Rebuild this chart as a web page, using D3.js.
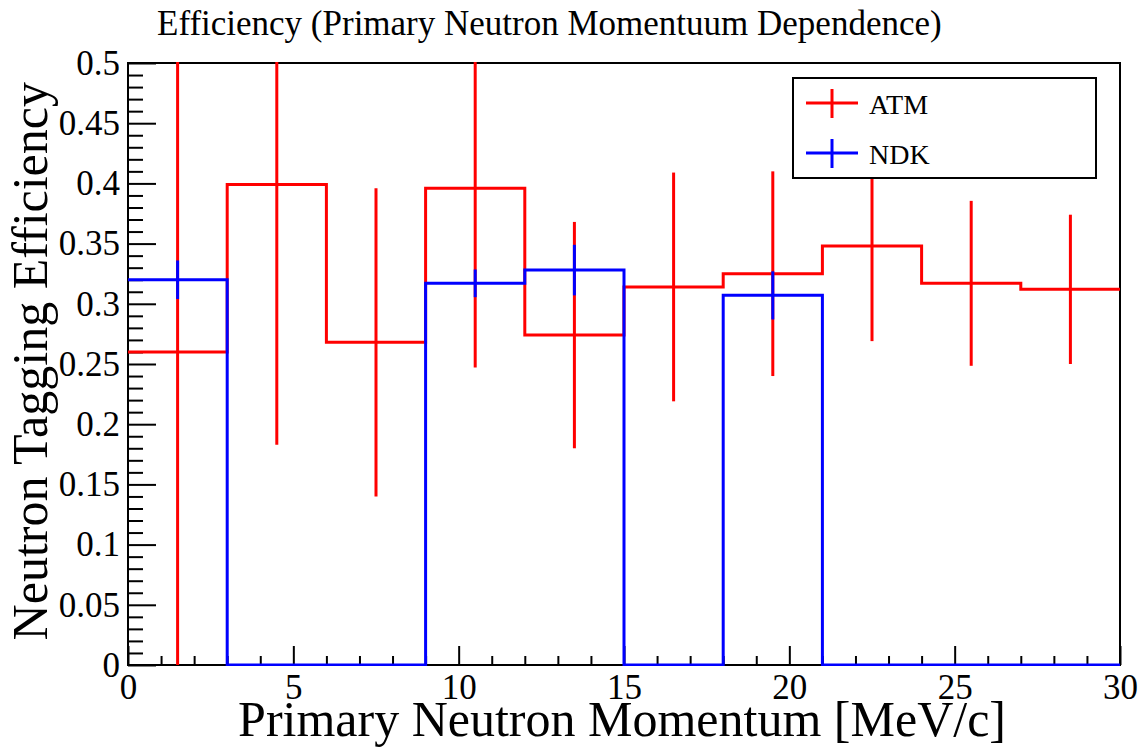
<!DOCTYPE html>
<html>
<head>
<meta charset="utf-8">
<script src="https://cdn.jsdelivr.net/npm/d3@7"></script>
<style>
  html, body { margin: 0; padding: 0; background: #fff; }
</style>
</head>
<body>
<svg id="chart" width="1146" height="747"></svg>
<script>
// Momentum bins [MeV/c]
const binLow  = [0, 3, 6, 9, 12, 15, 18, 21, 24, 27];
const binHigh = [3, 6, 9, 12, 15, 18, 21, 24, 27, 30];

// Tagging efficiency and its uncertainty per bin
const atmEff = [0.260, 0.399, 0.268, 0.396, 0.274, 0.314, 0.325, 0.348, 0.317, 0.312];
const atmErr = [0.260, 0.216, 0.128, 0.149, 0.094, 0.095, 0.085, 0.079, 0.0685, 0.062];
const ndkEff = [0.320, 0, 0, 0.317, 0.328, 0, 0.307, 0, 0, 0];
const ndkErr = [0.016, 0, 0, 0.0115, 0.021, 0, 0.020, 0, 0, 0];

// Axis ticks
const xMajorTicks = [0, 5, 10, 15, 20, 25, 30];
const xMinorTicks = [1, 2, 3, 4, 6, 7, 8, 9, 11, 12, 13, 14, 16, 17, 18, 19, 21, 22, 23, 24, 26, 27, 28, 29];
const yMajorTicks = [0, 0.05, 0.1, 0.15, 0.2, 0.25, 0.3, 0.35, 0.4, 0.45, 0.5];
const yTickLabels = ["0", "0.05", "0.1", "0.15", "0.2", "0.25", "0.3", "0.35", "0.4", "0.45", "0.5"];
const yMinorTicks = [0.01, 0.02, 0.03, 0.04, 0.06, 0.07, 0.08, 0.09, 0.11, 0.12, 0.13, 0.14,
  0.16, 0.17, 0.18, 0.19, 0.21, 0.22, 0.23, 0.24, 0.26, 0.27, 0.28, 0.29, 0.31, 0.32, 0.33, 0.34,
  0.36, 0.37, 0.38, 0.39, 0.41, 0.42, 0.43, 0.44, 0.46, 0.47, 0.48, 0.49];

const seriesNames = ["ATM", "NDK"];
const seriesColors = ["#ff0000", "#0000ff"];

const FONT = '"Liberation Serif"';

const svg = d3.select("#chart");
const frame = { left: 128, right: 1120, top: 63, bottom: 665 };

const x = d3.scaleLinear().domain([0, 30]).range([frame.left, frame.right]);
const y = d3.scaleLinear().domain([0, 0.5]).range([frame.bottom, frame.top]);

// Title
svg.append("text")
  .attr("x", 157).attr("y", 35)
  .attr("font-size", 35)
  .style("font-family", FONT)
  .text("Efficiency (Primary Neutron Momentuum Dependence)");

// Axes: ticks point inward
const xMajor = d3.axisBottom(x).tickValues(xMajorTicks).tickSize(-19).tickPadding(9)
  .tickFormat(d3.format("d"));
const xMinor = d3.axisBottom(x).tickValues(xMinorTicks).tickSize(-9).tickFormat("");
const yMajor = d3.axisLeft(y).tickValues(yMajorTicks).tickSize(-28).tickPadding(8)
  .tickFormat((d, i) => yTickLabels[i]);
const yMinor = d3.axisLeft(y).tickValues(yMinorTicks).tickSize(-15).tickFormat("");

function styleAxis(g) {
  g.attr("font-family", null).attr("font-size", null);
  g.select(".domain").remove();
  g.selectAll(".tick line").attr("stroke", "#000").attr("stroke-width", 2);
  g.selectAll(".tick text").attr("fill", "#000")
    .attr("font-size", 35)
    .style("font-family", FONT);
}

svg.append("g").attr("transform", `translate(0,${frame.bottom})`).call(xMinor).call(styleAxis);
svg.append("g").attr("transform", `translate(0,${frame.bottom})`).call(xMajor).call(styleAxis);
svg.append("g").attr("transform", `translate(${frame.left},0)`).call(yMinor).call(styleAxis);
svg.append("g").attr("transform", `translate(${frame.left},0)`).call(yMajor).call(styleAxis);

// Frame
svg.append("rect")
  .attr("x", frame.left).attr("y", frame.top)
  .attr("width", frame.right - frame.left).attr("height", frame.bottom - frame.top)
  .attr("fill", "none").attr("stroke", "#000").attr("stroke-width", 2);

// Clip region for the data
svg.append("defs").append("clipPath").attr("id", "plotClip")
  .append("rect").attr("x", frame.left).attr("y", frame.top - 1)
  .attr("width", frame.right - frame.left).attr("height", frame.bottom - frame.top + 2);

const plot = svg.append("g").attr("clip-path", "url(#plotClip)");

function drawSeries(eff, err, color) {
  const g = plot.append("g");
  // Step histogram outline
  const pts = [];
  eff.forEach((v, i) => {
    pts.push([x(binLow[i]), y(v)]);
    pts.push([x(binHigh[i]), y(v)]);
  });
  g.append("path")
    .attr("d", d3.line()(pts))
    .attr("fill", "none")
    .attr("stroke", color)
    .attr("stroke-width", 3)
    .attr("stroke-linejoin", "miter");
  // Vertical error bars for non-empty bins
  eff.forEach((v, i) => {
    if (v === 0) return;
    const xc = x((binLow[i] + binHigh[i]) / 2);
    g.append("line")
      .attr("x1", xc).attr("x2", xc)
      .attr("y1", y(v - err[i])).attr("y2", y(v + err[i]))
      .attr("stroke", color).attr("stroke-width", 3);
  });
}

drawSeries(atmEff, atmErr, seriesColors[0]);
drawSeries(ndkEff, ndkErr, seriesColors[1]);

// Axis titles
svg.append("text")
  .attr("x", 1006).attr("y", 736)
  .attr("text-anchor", "end")
  .attr("font-size", 50)
  .style("font-family", FONT)
  .text("Primary Neutron Momentum [MeV/c]");

svg.append("text")
  .attr("transform", "translate(47,82) rotate(-90)")
  .attr("text-anchor", "end")
  .attr("font-size", 50)
  .style("font-family", FONT)
  .text("Neutron Tagging Efficiency");

// Legend
const lg = svg.append("g");
lg.append("rect")
  .attr("x", 793).attr("y", 78).attr("width", 303).attr("height", 100)
  .attr("fill", "#fff").attr("stroke", "#000").attr("stroke-width", 2);
const legendY = [103, 153];
seriesNames.forEach((name, i) => {
  const cy = legendY[i];
  lg.append("line").attr("x1", 806).attr("x2", 858).attr("y1", cy).attr("y2", cy)
    .attr("stroke", seriesColors[i]).attr("stroke-width", 3);
  lg.append("line").attr("x1", 832).attr("x2", 832).attr("y1", cy - 14).attr("y2", cy + 15)
    .attr("stroke", seriesColors[i]).attr("stroke-width", 3);
  lg.append("text")
    .attr("x", 869).attr("y", cy + 11)
    .attr("font-size", 28)
    .style("font-family", FONT)
    .text(name);
});
</script>
</body>
</html>
